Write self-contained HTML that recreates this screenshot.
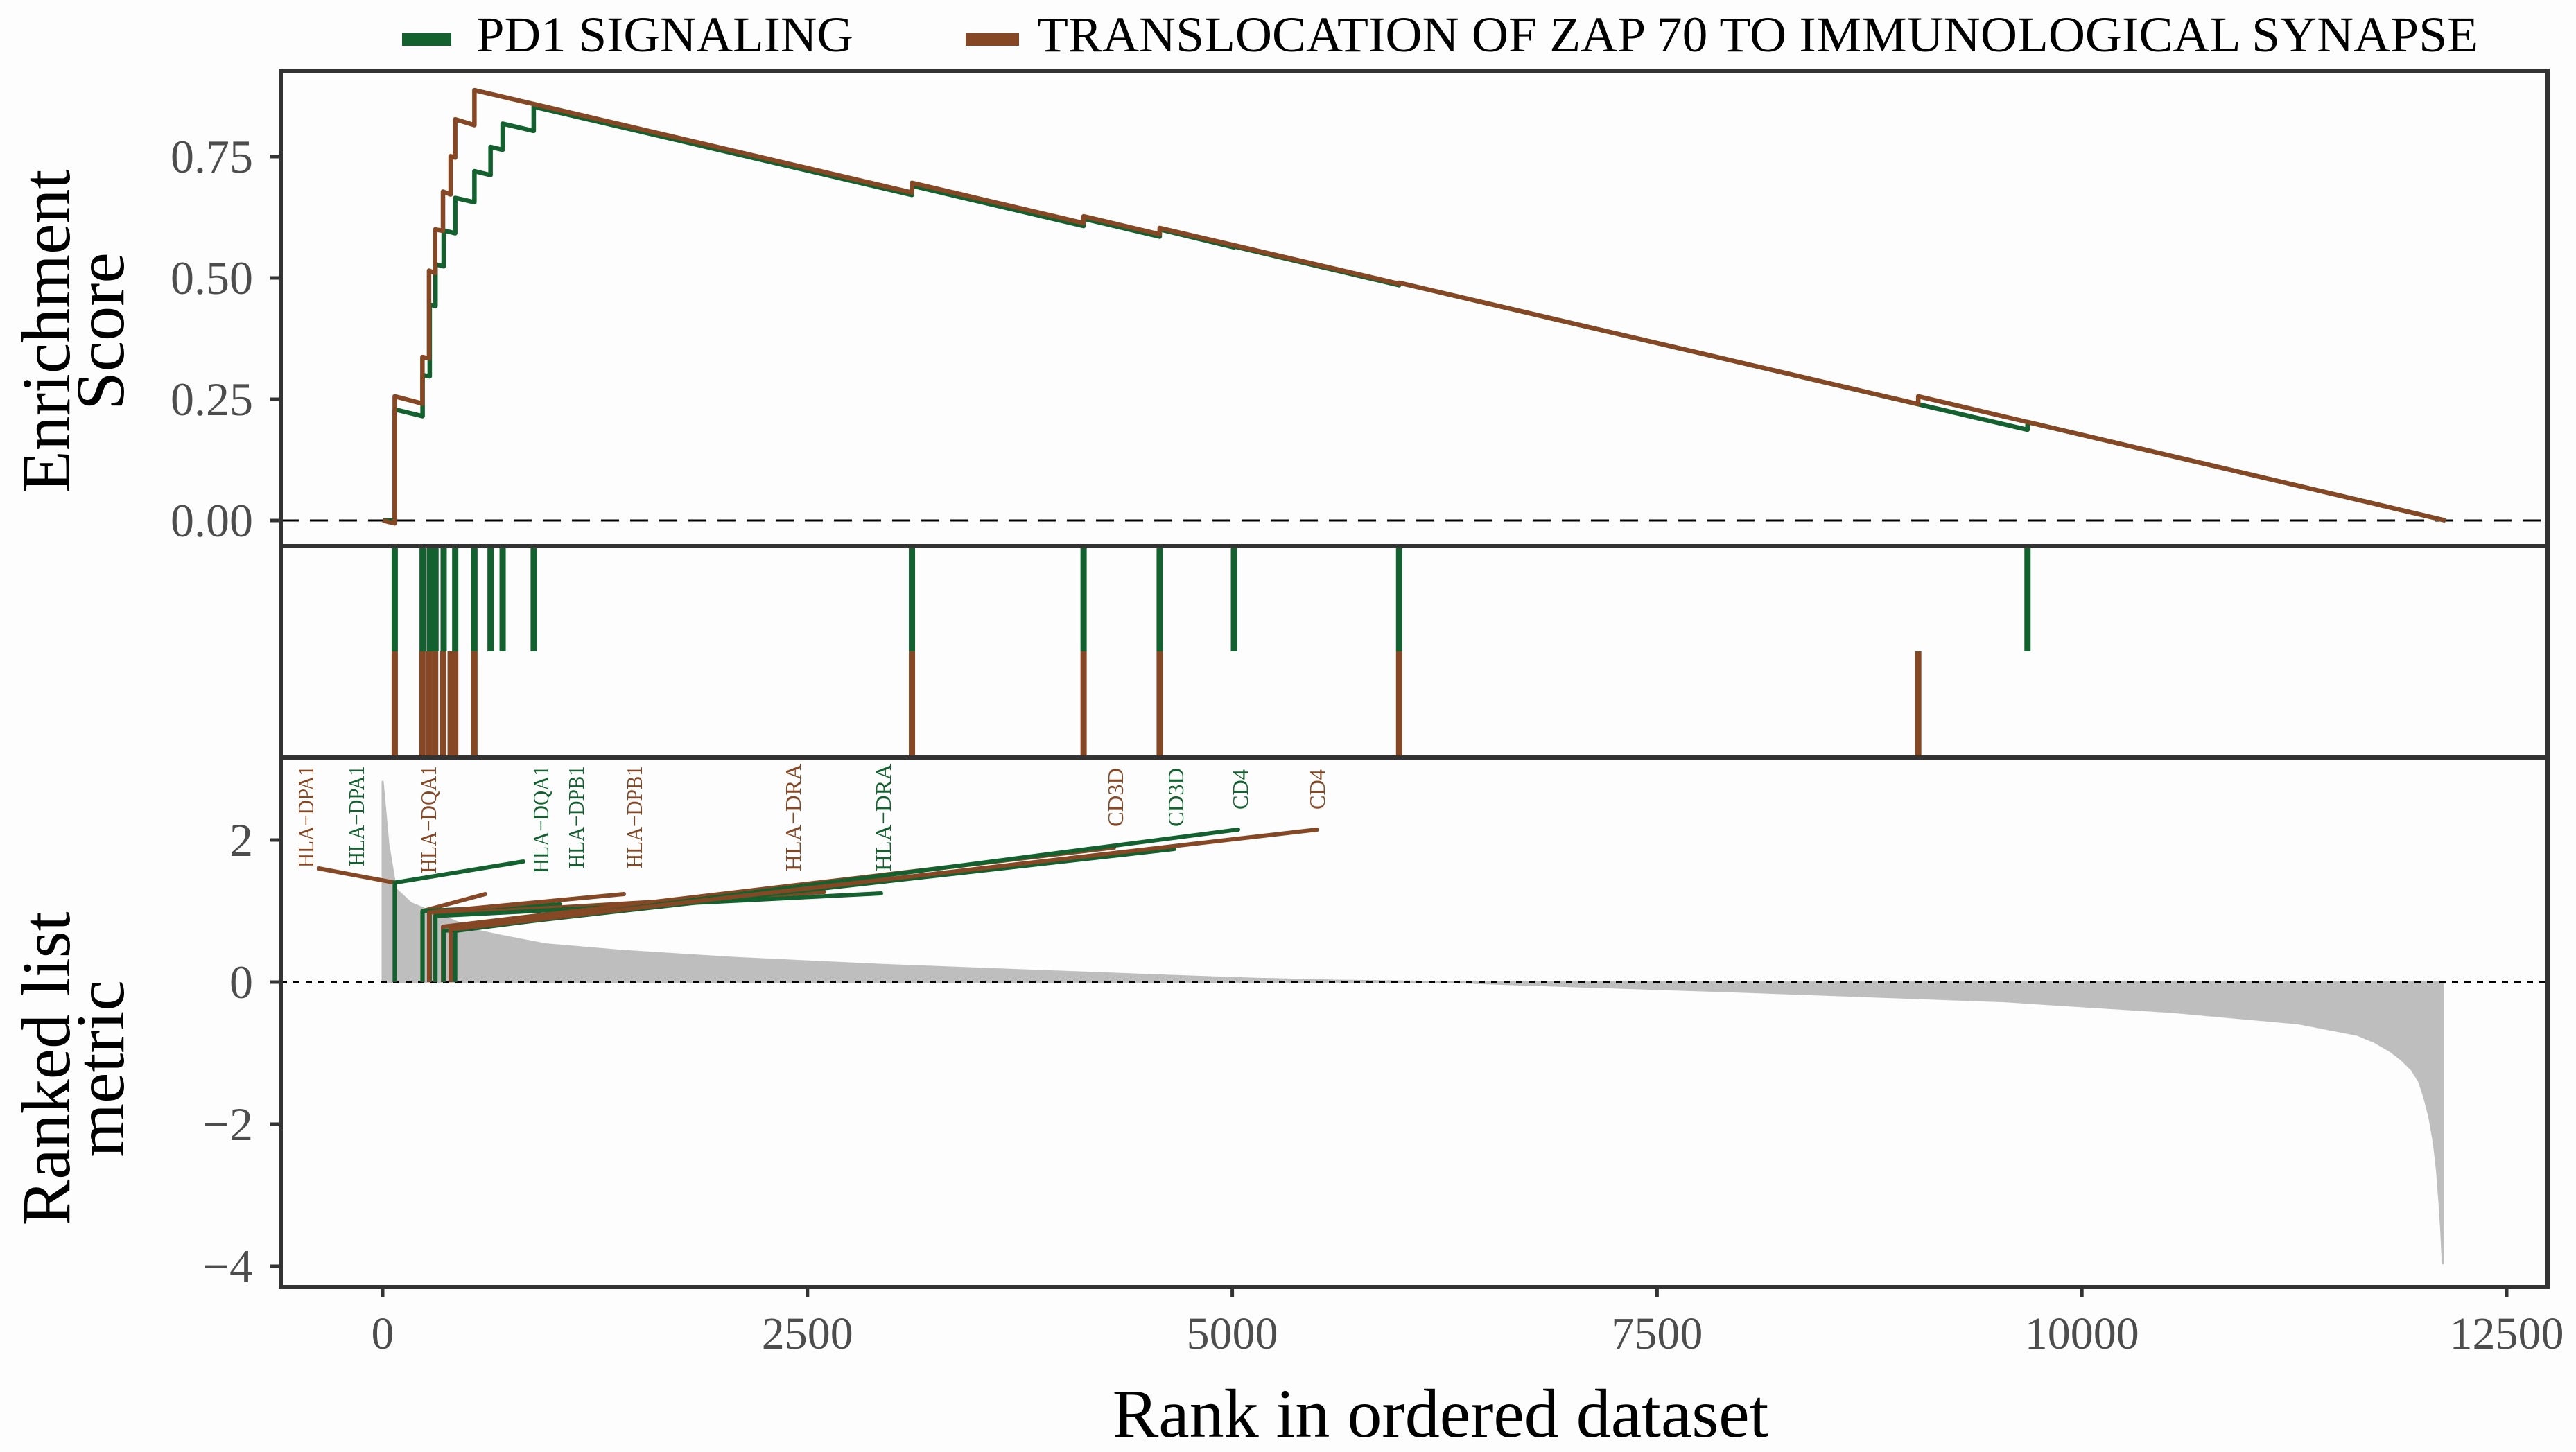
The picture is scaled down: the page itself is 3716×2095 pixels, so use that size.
<!DOCTYPE html>
<html><head><meta charset="utf-8"><style>
html,body{margin:0;padding:0;background:#fdfdfd;}
svg{display:block;font-family:"Liberation Serif",serif;}
</style></head><body>
<svg id="chart" width="3716" height="2095" viewBox="0 0 3716 2095" xmlns="http://www.w3.org/2000/svg">
<rect x="0" y="0" width="3716" height="2095" fill="#fdfdfd"/>
<g id="legend">
  <rect x="580" y="48" width="71" height="18" fill="#12612f"/>
  <text x="687" y="74" font-size="72" textLength="544" lengthAdjust="spacingAndGlyphs" fill="#000">PD1 SIGNALING</text>
  <rect x="1393" y="48" width="77" height="18" fill="#864724"/>
  <text x="1496" y="74" font-size="72" textLength="2079" lengthAdjust="spacingAndGlyphs" fill="#000">TRANSLOCATION OF ZAP 70 TO IMMUNOLOGICAL SYNAPSE</text>
</g>
<g id="layer"></g>
<text transform="translate(100,478) rotate(-90)" text-anchor="middle" font-size="100">Enrichment</text>
<text transform="translate(178,478) rotate(-90)" text-anchor="middle" font-size="100">Score</text>
<text transform="translate(100,1542) rotate(-90)" text-anchor="middle" font-size="100">Ranked list</text>
<text transform="translate(178,1542) rotate(-90)" text-anchor="middle" font-size="100">metric</text>
<text x="2078" y="2073" text-anchor="middle" font-size="100">Rank in ordered dataset</text>
</svg>
<script>
// ---- data ----
const N = 12140;
const xTicks = [0, 2500, 5000, 7500, 10000, 12500];
const esTicks = [0, 0.25, 0.5, 0.75];
const esTickLabels = ["0.00", "0.25", "0.50", "0.75"];
const metricTicks = [2, 0, -2, -4];
const metricTickLabels = ["2", "0", "\u22122", "\u22124"];

const greenHits = [71, 235, 277, 311, 359, 427, 540, 635, 706, 889, 3115, 4125, 4573, 5010, 5982, 9680];
const greenEsBefore = [0, 0.215, 0.297, 0.442, 0.524, 0.592, 0.656, 0.712, 0.764, 0.803, 0.671, 0.607, 0.585, 0.563, 0.485, 0.187];
const greenEsAfter = [0.229, 0.30, 0.445, 0.528, 0.598, 0.665, 0.72, 0.77, 0.818, 0.853, 0.69, 0.622, 0.60, 0.565, 0.49, 0.203];

const brownHits = [71, 234, 273, 309, 355, 400, 427, 540, 3115, 4125, 4573, 5982, 9037];
const brownEsBefore = [-0.006, 0.241, 0.334, 0.51, 0.597, 0.672, 0.748, 0.815, 0.676, 0.613, 0.590, 0.488, 0.24];
const brownEsAfter = [0.256, 0.337, 0.515, 0.600, 0.678, 0.751, 0.827, 0.887, 0.696, 0.627, 0.603, 0.49, 0.256];

const metricRanks = [0, 33, 77, 167, 298, 563, 700, 963, 1407, 2070, 2954, 3838, 4724, 5091, 5610, 6279, 8057, 9543, 10530, 11272, 11619, 11720, 11815, 11880, 11940, 11985, 12015, 12045, 12072, 12090, 12104, 12115, 12124];
const metricVals = [2.82, 1.95, 1.31, 1.11, 0.98, 0.72, 0.65, 0.53, 0.44, 0.34, 0.24, 0.16, 0.08, 0.05, 0.02, 0, -0.14, -0.27, -0.42, -0.58, -0.74, -0.84, -0.97, -1.09, -1.23, -1.40, -1.62, -1.90, -2.27, -2.65, -3.09, -3.50, -3.96];

const labelGenes = ["HLA\u2212DPA1","HLA\u2212DPA1","HLA\u2212DQA1","HLA\u2212DQA1","HLA\u2212DPB1","HLA\u2212DPB1","HLA\u2212DRA","HLA\u2212DRA","CD3D","CD3D","CD4","CD4"];
const labelSet = ["b","g","b","g","g","b","b","g","b","g","g","b"];
const labelHitRank = [71, 71, 234, 277, 235, 273, 309, 311, 355, 359, 427, 400];
const labelHitMetric = [1.40, 1.40, 1.0, 0.98, 1.0, 0.98, 0.95, 0.93, 0.78, 0.72, 0.72, 0.74];
// layout for repelled labels (pixels)
const labelX = [441, 514, 618, 780, 831, 915, 1144, 1274, 1609, 1696, 1789, 1900];
const labelTop = [1105, 1105, 1105, 1105, 1105, 1105, 1102, 1102, 1108, 1108, 1110, 1110];
const labelBottom = [1252, 1250, 1260, 1260, 1253, 1253, 1257, 1257, 1193, 1193, 1168, 1168];
const segEndX = [460, 755, 700, 808, 808, 900, 1189, 1271, 1607, 1694, 1786, 1900];
const segEndY = [1253, 1243, 1290, 1305, 1305, 1290, 1287, 1289, 1223, 1225, 1197, 1197];

// ---- scales ----
const L = 405, R = 3675;
const x = r => 552 + r * 0.24512;
const yEs = v => 751 - v * 700;
const yM = v => 1417 - v * 102.5;
const col = {g: "#12612f", b: "#864724"};
const NS = "http://www.w3.org/2000/svg";
const layer = document.getElementById("layer");
function mk(tag, attrs, parent) {
  const e = document.createElementNS(NS, tag);
  for (const k in attrs) e.setAttribute(k, attrs[k]);
  (parent || layer).appendChild(e);
  return e;
}

let e;
e = mk("line", {x1: L, x2: R, y1: yEs(0), y2: yEs(0), stroke: "#000", "stroke-width": 3, "stroke-dasharray": "26 16"});



function esPath(hits, before, after) {
  let d = "M" + x(0) + "," + yEs(0);
  for (let i = 0; i < hits.length; i++) {
    d += " L" + x(hits[i]) + "," + yEs(before[i]) + " L" + x(hits[i]) + "," + yEs(after[i]);
  }
  d += " L" + x(N) + "," + yEs(0);
  return d;
}
e = mk("path", {d: esPath(greenHits, greenEsBefore, greenEsAfter), fill: "none", stroke: col.g, "stroke-width": 6.5, "stroke-linejoin": "round"});


e = mk("path", {d: esPath(brownHits, brownEsBefore, brownEsAfter), fill: "none", stroke: col.b, "stroke-width": 6.5, "stroke-linejoin": "round"});



greenHits.forEach(r => {
  const t = mk("rect", {x: x(r) - 4.5, y: 790, width: 9, height: 150, fill: col.g});
  
  
});
brownHits.forEach(r => {
  const t = mk("rect", {x: x(r) - 4.5, y: 940, width: 9, height: 150, fill: col.b});
  
  
});

let pd = "M" + x(metricRanks[0]) + "," + yM(0);
metricRanks.forEach((r, i) => { pd += " L" + x(r) + "," + yM(metricVals[i]); });
pd += " L" + x(metricRanks[metricRanks.length - 1]) + "," + yM(0) + " Z";
e = mk("path", {d: pd, fill: "#bebebe", stroke: "#bebebe", "stroke-width": 3, "stroke-linejoin": "round"});


e = mk("line", {x1: L, x2: R, y1: yM(0), y2: yM(0), stroke: "#000", "stroke-width": 4, "stroke-dasharray": "9 9"});



labelGenes.forEach((g, i) => {
  const c = col[labelSet[i]];
  const hx = x(labelHitRank[i]), hy = yM(labelHitMetric[i]);
  const v = mk("line", {x1: hx, x2: hx, y1: yM(0), y2: hy, stroke: c, "stroke-width": 6});
  
  
  const s = mk("line", {x1: hx, y1: hy, x2: segEndX[i], y2: segEndY[i], stroke: c, "stroke-width": 6, "stroke-linecap": "round"});
  
  
  const t = mk("text", {transform: "translate(" + (labelX[i] + 11) + "," + labelBottom[i] + ") rotate(-90)", "font-size": 32, fill: c, textLength: labelBottom[i] - labelTop[i], lengthAdjust: "spacingAndGlyphs"});
  t.textContent = g;
  
  
});

[[102, 788], [788, 1093], [1093, 1857]].forEach((p, i) => {
  const b = mk("rect", {x: L, y: p[0], width: R - L, height: p[1] - p[0], fill: "none", stroke: "#333", "stroke-width": 6});
  
  
});

esTicks.forEach((v, i) => {
  const t = mk("line", {x1: L - 15, x2: L, y1: yEs(v), y2: yEs(v), stroke: "#333", "stroke-width": 5});
  
  
  const l = mk("text", {x: 365, y: yEs(v) + 23, "text-anchor": "end", "font-size": 68, fill: "#4d4d4d"});
  l.textContent = esTickLabels[i];
  
  
});
metricTicks.forEach((v, i) => {
  const t = mk("line", {x1: L - 15, x2: L, y1: yM(v), y2: yM(v), stroke: "#333", "stroke-width": 5});
  
  
  const l = mk("text", {x: 365, y: yM(v) + 23, "text-anchor": "end", "font-size": 68, fill: "#4d4d4d"});
  l.textContent = metricTickLabels[i];
  
  
});
xTicks.forEach(v => {
  const t = mk("line", {x1: x(v), x2: x(v), y1: 1857, y2: 1872, stroke: "#333", "stroke-width": 5});
  
  
  const l = mk("text", {x: x(v), y: 1946, "text-anchor": "middle", "font-size": 66, fill: "#4d4d4d"});
  l.textContent = String(v);
  
  
});
</script>
</body></html>
